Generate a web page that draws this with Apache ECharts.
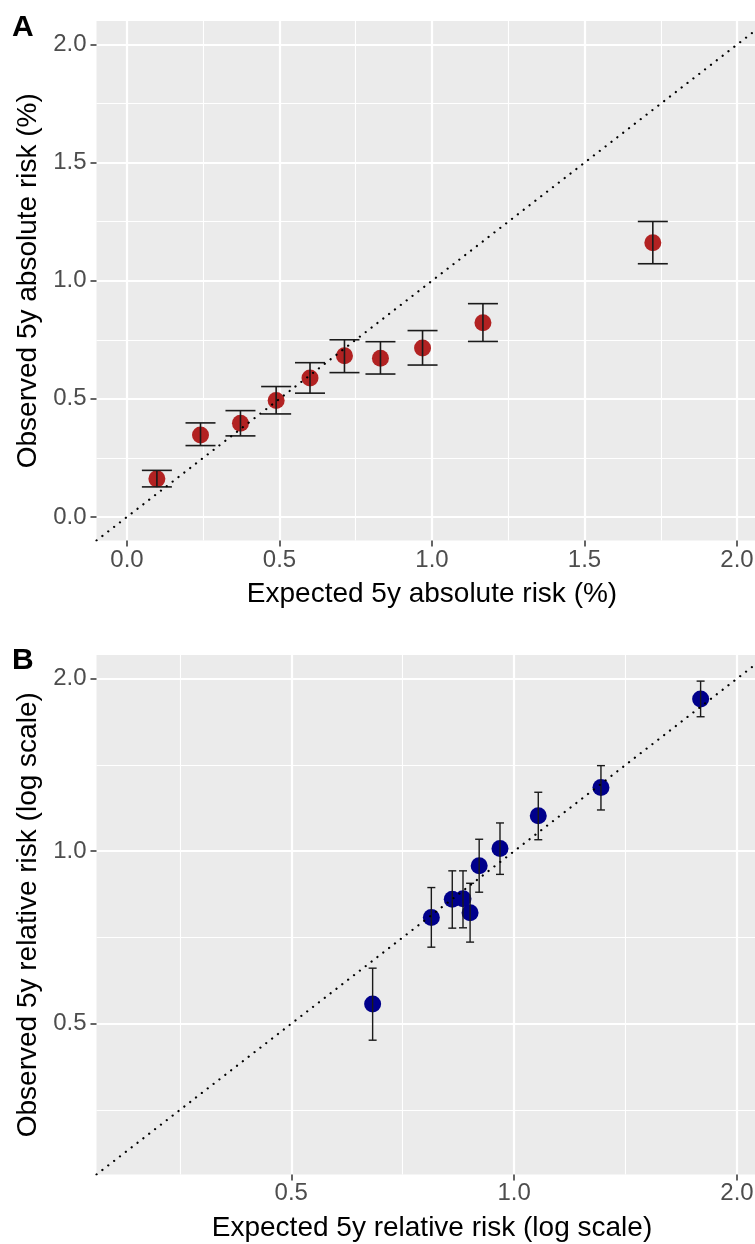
<!DOCTYPE html>
<html>
<head>
<meta charset="utf-8">
<title>Observed vs expected 5y risk</title>
<script src="https://cdn.jsdelivr.net/npm/echarts@6/dist/echarts.min.js"></script>
<style>
  html, body { margin: 0; padding: 0; background: #fff; }
  #chart { width: 755px; height: 1244px; }
</style>
</head>
<body>
<div id="chart"></div>
<script>
// panel A - absolute risk (%)
var expectedA = [0.098, 0.241, 0.372, 0.489, 0.600, 0.713, 0.831, 0.969, 1.167, 1.724];
var observedA = [0.161, 0.347, 0.397, 0.493, 0.588, 0.682, 0.672, 0.715, 0.822, 1.161];
var lowerA    = [0.127, 0.302, 0.343, 0.436, 0.524, 0.611, 0.605, 0.643, 0.743, 1.072];
var upperA    = [0.197, 0.398, 0.450, 0.552, 0.653, 0.750, 0.742, 0.789, 0.903, 1.251];

// panel B - relative risk (log scale)
var expectedB = [0.644, 0.773, 0.825, 0.853, 0.872, 0.897, 0.957, 1.078, 1.310, 1.786];
var observedB = [0.541, 0.766, 0.824, 0.826, 0.781, 0.943, 1.011, 1.153, 1.291, 1.843];
var lowerB    = [0.468, 0.680, 0.734, 0.735, 0.694, 0.848, 0.911, 1.047, 1.180, 1.716];
var upperB    = [0.625, 0.864, 0.924, 0.924, 0.879, 1.049, 1.120, 1.267, 1.410, 1.980];

var ticksA = [0, 0.5, 1, 1.5, 2];
var ticksB = [0.5, 1, 2];
var limitsA = [0, 2];
var limitsB = [0.3, 2];

// ggplot adds 5% on each side
function expand(lim) {
  var d = (lim[1] - lim[0]) * 0.05;
  return [lim[0] - d, lim[1] + d];
}
var log2 = function (v) { return Math.log(v) / Math.LN2; };
var extA = expand(limitsA);
var extB = expand(limitsB.map(log2));

var FONT = 'Liberation Sans, Arial, sans-serif';

function errorbar(capWidth, lw) {
  return function (params, api) {
    var x = api.value(0);
    var top = api.coord([x, api.value(2)]);
    var bot = api.coord([x, api.value(1)]);
    var h = capWidth / 2;
    var style = { stroke: '#1a1a1a', lineWidth: lw };
    return {
      type: 'group',
      children: [
        { type: 'line', shape: { x1: top[0], y1: top[1], x2: bot[0], y2: bot[1] }, style: style },
        { type: 'line', shape: { x1: top[0] - h, y1: top[1], x2: top[0] + h, y2: top[1] }, style: style },
        { type: 'line', shape: { x1: bot[0] - h, y1: bot[1], x2: bot[0] + h, y2: bot[1] }, style: style }
      ]
    };
  };
}

function axisBase(ext, step, ticks, fmt, name, gap, margin) {
  return {
    type: 'value',
    min: ext[0],
    max: ext[1],
    minInterval: step,
    maxInterval: step,
    name: name,
    nameLocation: 'middle',
    nameGap: gap,
    nameTextStyle: { fontFamily: FONT, fontSize: 28, color: '#000' },
    axisLine: { show: false, onZero: false },
    axisTick: { show: true, length: 6, lineStyle: { color: '#333', width: 1.5 }, customValues: ticks },
    axisLabel: { fontFamily: FONT, fontSize: 24, color: '#4d4d4d', margin: margin, customValues: ticks, formatter: fmt },
    splitLine: { show: true, lineStyle: { color: '#fff', width: 2.2 } },
    minorTick: { show: false, splitNumber: 2 },
    minorSplitLine: { show: true, lineStyle: { color: '#fff', width: 1.1 } }
  };
}

var fmtA = function (v) { return v.toFixed(1); };
var fmtB = function (v) { return Math.pow(2, v).toFixed(1); };
var ticksBlog = ticksB.map(log2);

var dotted = { color: '#000', width: 2.2, type: [0.1, 7.3], cap: 'round' };

var chart = echarts.init(document.getElementById('chart'), null, { renderer: 'canvas' });
chart.setOption({
  animation: false,
  backgroundColor: '#fff',
  textStyle: { fontFamily: FONT },
  grid: [
    { left: 96.5, top: 21, right: -12.5, height: 519.5, show: true, backgroundColor: '#ebebeb', borderWidth: 0, outerBoundsMode: 'none' },
    { left: 96.5, top: 655, right: -12.5, height: 519.5, show: true, backgroundColor: '#ebebeb', borderWidth: 0, outerBoundsMode: 'none' }
  ],
  xAxis: [
    Object.assign(axisBase(extA, 0.5, ticksA, fmtA, 'Expected 5y absolute risk (%)', 40, 8), { gridIndex: 0 }),
    Object.assign(axisBase(extB, 1, ticksBlog, fmtB, 'Expected 5y relative risk (log scale)', 40, 7), { gridIndex: 1 })
  ],
  yAxis: [
    Object.assign(axisBase(extA, 0.5, ticksA, fmtA, 'Observed 5y absolute risk (%)', 45, 10), { gridIndex: 0 }),
    Object.assign(axisBase(extB, 1, ticksBlog, fmtB, 'Observed 5y relative risk (log scale)', 45, 10), { gridIndex: 1 })
  ],
  graphic: [
    { type: 'text', left: 12, top: 13, style: { text: 'A', font: 'bold 30px ' + FONT, fill: '#000' } },
    { type: 'text', left: 12, top: 646, style: { text: 'B', font: 'bold 30px ' + FONT, fill: '#000' } }
  ],
  series: [
    {
      type: 'scatter', xAxisIndex: 0, yAxisIndex: 0, z: 2,
      symbol: 'circle', symbolSize: 17,
      itemStyle: { color: '#b22222', opacity: 1 },
      data: expectedA.map(function (x, i) { return [x, observedA[i]]; })
    },
    {
      type: 'custom', xAxisIndex: 0, yAxisIndex: 0, z: 3,
      renderItem: errorbar(30, 1.6),
      data: expectedA.map(function (x, i) { return [x, lowerA[i], upperA[i]]; })
    },
    {
      type: 'line', xAxisIndex: 0, yAxisIndex: 0, z: 4,
      showSymbol: false, silent: true,
      lineStyle: dotted,
      data: [[extA[0], extA[0]], [extA[1], extA[1]]]
    },
    {
      type: 'scatter', xAxisIndex: 1, yAxisIndex: 1, z: 2,
      symbol: 'circle', symbolSize: 17,
      itemStyle: { color: '#00008b', opacity: 1 },
      data: expectedB.map(function (x, i) { return [log2(x), log2(observedB[i])]; })
    },
    {
      type: 'custom', xAxisIndex: 1, yAxisIndex: 1, z: 3,
      renderItem: errorbar(8, 1.4),
      data: expectedB.map(function (x, i) { return [log2(x), log2(lowerB[i]), log2(upperB[i])]; })
    },
    {
      type: 'line', xAxisIndex: 1, yAxisIndex: 1, z: 4,
      showSymbol: false, silent: true,
      lineStyle: dotted,
      data: [[extB[0], extB[0]], [extB[1], extB[1]]]
    }
  ]
});
</script>
</body>
</html>
